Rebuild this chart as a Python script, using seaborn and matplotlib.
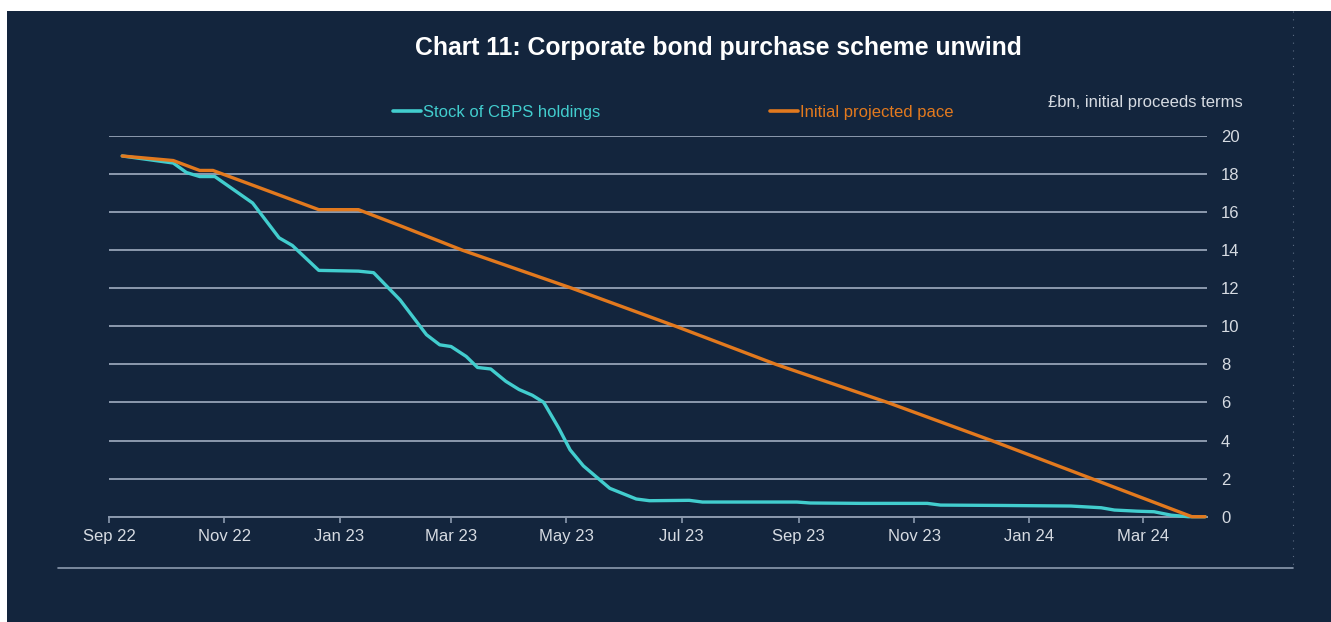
import numpy as np
import pandas as pd
import matplotlib
matplotlib.use("Agg")
import matplotlib.pyplot as plt
import matplotlib.dates as mdates
from matplotlib.patches import Rectangle
from matplotlib.lines import Line2D
import seaborn as sns

# ---------------- data ----------------
title = "Chart 11: Corporate bond purchase scheme unwind"
units_label = "£bn, initial proceeds terms"
series_names = ["Stock of CBPS holdings", "Initial projected pace"]

cbps_dates = [
    "2022-09-08", "2022-10-05", "2022-10-12", "2022-10-19", "2022-10-27",
    "2022-11-16", "2022-11-30", "2022-12-07", "2022-12-21", "2023-01-11",
    "2023-01-19", "2023-02-02", "2023-02-16", "2023-02-23", "2023-03-01",
    "2023-03-09", "2023-03-15", "2023-03-22", "2023-03-30", "2023-04-06",
    "2023-04-13", "2023-04-19", "2023-04-27", "2023-05-03", "2023-05-10",
    "2023-05-24", "2023-06-07", "2023-06-14", "2023-07-05", "2023-07-12",
    "2023-08-31", "2023-09-07", "2023-10-04", "2023-11-08", "2023-11-15",
    "2023-12-18", "2024-01-23", "2024-02-08", "2024-02-15", "2024-02-27",
    "2024-03-07", "2024-03-16", "2024-03-25", "2024-04-03",
]
cbps_values = [
    18.95, 18.58, 18.08, 17.87, 17.87,
    16.48, 14.65, 14.25, 12.94, 12.90,
    12.82, 11.39, 9.56, 9.03, 8.94,
    8.42, 7.84, 7.76, 7.11, 6.68,
    6.38, 6.01, 4.65, 3.51, 2.67,
    1.49, 0.93, 0.84, 0.86, 0.77,
    0.77, 0.72, 0.70, 0.70, 0.61,
    0.59, 0.56, 0.47, 0.35, 0.29,
    0.26, 0.08, 0.0, 0.0,
]

pace_dates = [
    "2022-09-08", "2022-10-05", "2022-10-19", "2022-10-26", "2022-12-21",
    "2023-01-11", "2023-02-02", "2023-03-07", "2023-05-04", "2023-06-28",
    "2023-08-20", "2023-10-18", "2023-12-12", "2024-02-03", "2024-03-27",
    "2024-04-03",
]
pace_values = [
    18.95, 18.71, 18.19, 18.19, 16.13,
    16.13, 15.29, 14.0, 12.0, 10.0,
    8.0, 6.0, 4.0, 2.0, 0.0,
    0.0,
]

y_ticks = [0, 2, 4, 6, 8, 10, 12, 14, 16, 18, 20]
x_start, x_end = "2022-09-01", "2024-04-04"

# ---------------- style ----------------
sns.set_style("white")
plt.rcParams['font.family'] = ['Liberation Sans Narrow', 'Liberation Sans', 'DejaVu Sans']

BG = "#13253d"
GRID = "#8c9aae"
TICK = "#d6dbe2"
TEAL = "#42cdce"
ORANGE = "#e2791e"

W, H = 1331, 622
fig = plt.figure(figsize=(W / 100, H / 100), dpi=100, facecolor="white")
fig.patches.append(Rectangle((7 / W, 0), (W - 7) / W, (H - 11) / H,
                             transform=fig.transFigure, facecolor=BG,
                             edgecolor="none", zorder=-10))

ax = fig.add_axes([109 / W, 1 - 516.7 / H, (1207 - 109) / W, (516.7 - 136) / H])
ax.set_facecolor(BG)

df = pd.concat([
    pd.DataFrame({"date": pd.to_datetime(cbps_dates), "value": cbps_values,
                  "series": series_names[0]}),
    pd.DataFrame({"date": pd.to_datetime(pace_dates), "value": pace_values,
                  "series": series_names[1]}),
], ignore_index=True)

sns.lineplot(data=df, x="date", y="value", hue="series",
             hue_order=series_names, palette=[TEAL, ORANGE],
             linewidth=2.4, estimator=None, sort=False, legend=False, ax=ax)
for ln in ax.get_lines():
    ln.set_clip_on(False)
    ln.set_zorder(3)
    ln.set_solid_joinstyle("round")

ax.set_xlim(pd.Timestamp(x_start), pd.Timestamp(x_end))
ax.set_ylim(0, 20)
ax.set_yticks(y_ticks)
ax.yaxis.tick_right()
ax.grid(axis="y", color=GRID, linewidth=1.4)
ax.grid(axis="x", visible=False)
ax.set_axisbelow(True)
for s in ["top", "left", "right"]:
    ax.spines[s].set_visible(False)
ax.spines["bottom"].set_color(GRID)
ax.spines["bottom"].set_linewidth(1.4)
ax.set_xlabel("")
ax.set_ylabel("")

ax.xaxis.set_major_locator(mdates.MonthLocator(bymonth=[1, 3, 5, 7, 9, 11]))
ax.xaxis.set_major_formatter(mdates.DateFormatter("%b %y"))
ax.tick_params(axis="x", direction="out", length=4, width=1.2, color=GRID,
               labelcolor=TICK, labelsize=12, pad=5, bottom=True)
ax.tick_params(axis="y", length=0, labelcolor=TICK, labelsize=12, pad=10,
               right=True, left=False)

fig.text(718 / W, 1 - 48 / H, title, ha="center", va="center",
         fontsize=17.8, fontweight="bold", color="white")
fig.text(1243 / W, 1 - 103 / H, units_label, ha="right", va="center",
         fontsize=12, color=TICK)

handles = [Line2D([], [], color=TEAL, lw=2.6), Line2D([], [], color=ORANGE, lw=2.6)]
ax.legend(handles=handles, labels=series_names, ncol=2, loc="center",
          bbox_to_anchor=(673 / W, 1 - 112 / H), bbox_transform=fig.transFigure,
          frameon=False, handlelength=1.7, handletextpad=0.1, columnspacing=10.2,
          fontsize=12, labelcolor=[TEAL, ORANGE], borderpad=0, borderaxespad=0)

fig.add_artist(Line2D([58 / W, 1293 / W], [1 - 568 / H, 1 - 568 / H],
                      transform=fig.transFigure, color=GRID, lw=1.2))
fig.add_artist(Line2D([1293 / W, 1293 / W], [1 - 11 / H, 1 - 568 / H],
                      transform=fig.transFigure, color="#5d6d84", lw=0.8,
                      linestyle=(0, (1, 6))))

fig.savefig("out.png", dpi=100, facecolor="white")
